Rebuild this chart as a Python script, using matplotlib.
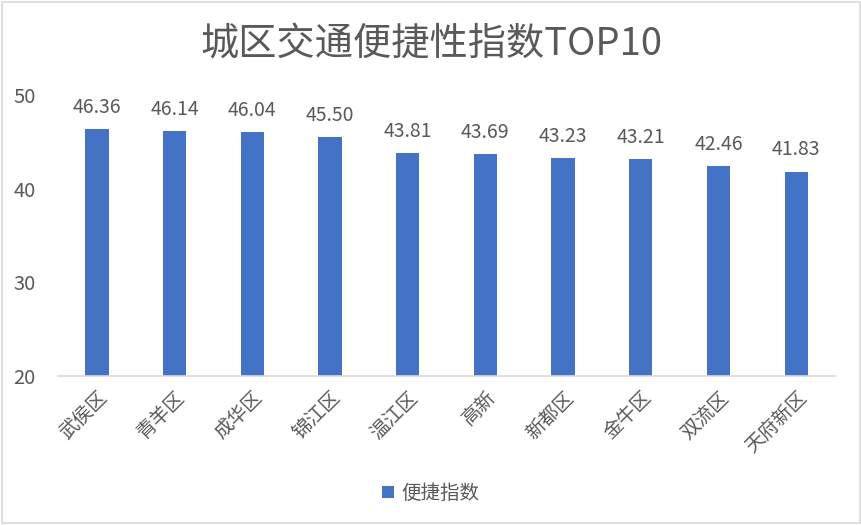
import matplotlib
matplotlib.use("Agg")
import matplotlib.pyplot as plt
from matplotlib.patches import Rectangle

plt.rcParams["font.family"] = ["Noto Sans CJK SC", "DejaVu Sans"]

DISTRICTS = ["武侯区", "青羊区", "成华区", "锦江区", "温江区", "高新", "新都区", "金牛区", "双流区", "天府新区"]
SCORES = [46.36, 46.14, 46.04, 45.50, 43.81, 43.69, 43.23, 43.21, 42.46, 41.83]
Y_TICKS = [20, 30, 40, 50]

BAR_COLOR = "#4472C4"
TEXT_COLOR = "#595959"

fig = plt.figure(figsize=(8.62, 5.25), dpi=100)
ax = fig.add_axes([0.0673, 0.2838, 0.9014, 0.5352])

x = range(len(DISTRICTS))
bars = ax.bar(x, SCORES, width=0.30, color=BAR_COLOR, label="便捷指数")
for b, v in zip(bars, SCORES):
    ax.annotate(f"{v:.2f}", (b.get_x() + b.get_width() / 2, v), xytext=(0, 8),
                textcoords="offset points", ha="center", va="bottom",
                fontsize=14, color=TEXT_COLOR)

ax.set_xlim(-0.5, len(DISTRICTS) - 0.5)
ax.set_ylim(20, 50)
ax.set_yticks(Y_TICKS)
ax.set_xticks(list(x))
ax.set_xticklabels(DISTRICTS, rotation=45, ha="right", rotation_mode="anchor")
ax.tick_params(axis="x", length=0, labelsize=14, colors=TEXT_COLOR, pad=8)
ax.tick_params(axis="y", length=0, labelsize=14.5, colors=TEXT_COLOR, pad=16)

for side in ["top", "right", "left"]:
    ax.spines[side].set_visible(False)
ax.spines["bottom"].set_color("#D9D9D9")
ax.spines["bottom"].set_linewidth(1.2)

fig.text(0.5, 0.915, "城区交通便捷性指数TOP10", ha="center", va="center",
         fontsize=27.5, color=TEXT_COLOR)

fig.legend(loc="center", bbox_to_anchor=(0.5, 0.06), frameon=False,
           fontsize=14, labelcolor=TEXT_COLOR, handlelength=0.6, handleheight=0.6,
           handletextpad=0.4)

# light chart border like the Excel chart area
fig.add_artist(Rectangle((0.002, 0.003), 0.996, 0.994, transform=fig.transFigure,
                         fill=False, edgecolor="#D9D9D9", linewidth=1.2))

fig.savefig("out.png", dpi=100)
